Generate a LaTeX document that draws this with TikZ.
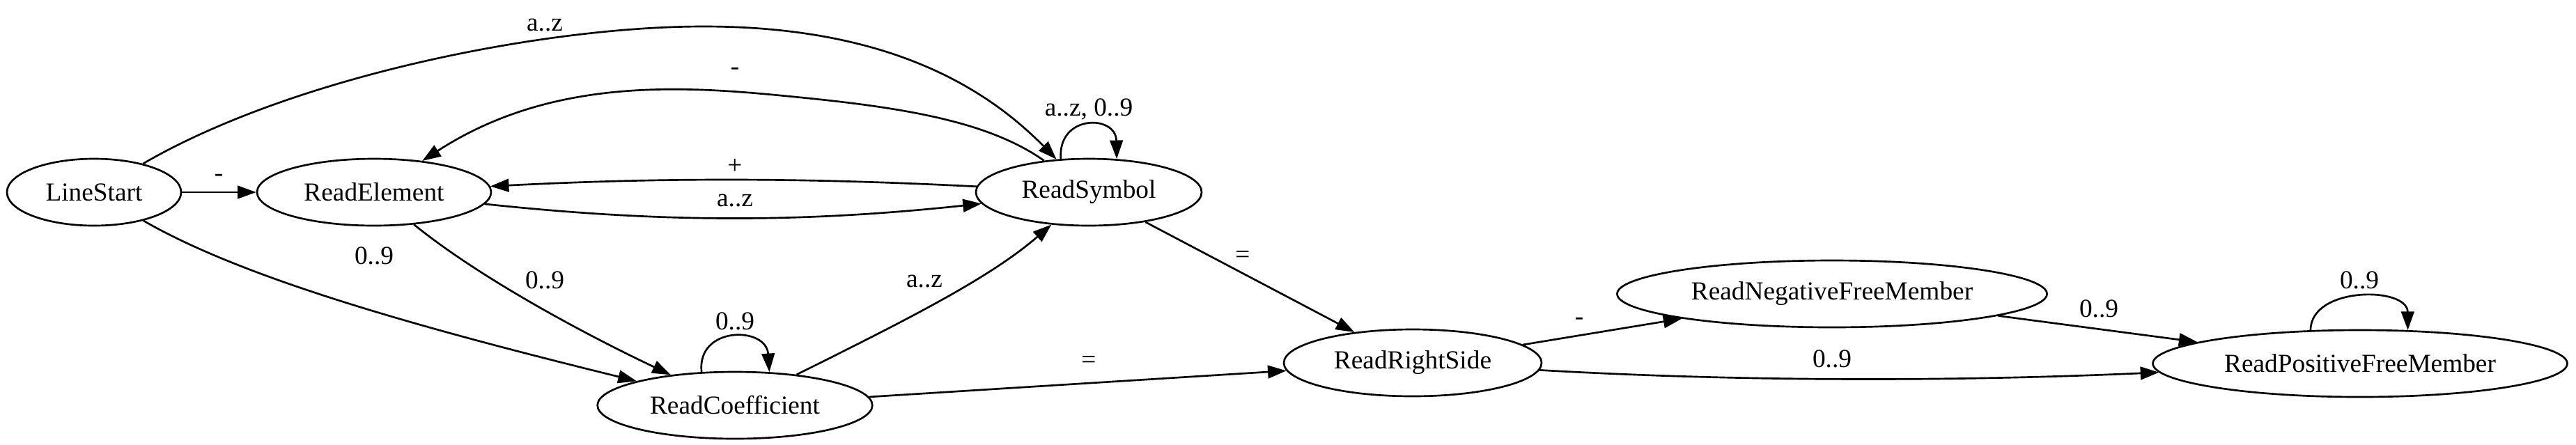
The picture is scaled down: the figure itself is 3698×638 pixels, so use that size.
\documentclass[tikz,border=0pt]{standalone}
\usepackage{fontspec}
\setmainfont{Liberation Serif}
\usetikzlibrary{arrows.meta,shapes.geometric}
\begin{document}
\begin{tikzpicture}[x=0.375pt,y=-0.375pt,
  state/.style={draw,ellipse,line width=1pt,inner sep=0pt,minimum height=36pt,font=\fontsize{14}{16}\selectfont},
  lbl/.style={inner sep=0pt,font=\fontsize{14}{16}\selectfont},
  arr/.style={line width=1pt,-{Triangle[length=10pt,width=7pt]}}]
\useasboundingbox (0,0) rectangle (3698,638);
% states
\node[state,minimum width=93.75pt] (LS) at (135,276) {LineStart};
\node[state,minimum width=126pt]   (RE) at (537,276) {ReadElement};
\node[state,minimum width=121.5pt] (RS) at (1563,276) {ReadSymbol};
\node[state,minimum width=148pt]   (RC) at (1055,582) {ReadCoefficient};
\node[state,minimum width=138.75pt] (RR) at (2028,521) {ReadRightSide};
\node[state,minimum width=231.4pt] (RN) at (2630,422) {ReadNegativeFreeMember};
\node[state,minimum width=223.1pt] (RP) at (3388,522) {ReadPositiveFreeMember};
% edges
\draw[arr] (LS) -- (RE);
\draw[arr] (LS) .. controls (420,110) and (780,38) .. (1010,38) .. controls (1250,38) and (1400,110) .. (RS);
\draw[arr] (RS) .. controls (1420,175) and (1300,155) .. (1150,140) .. controls (1000,125) and (800,105) .. (RE);
\draw[arr] (RS) .. controls (1150,255) and (950,255) .. (RE);
\draw[arr] (RE) .. controls (950,320) and (1150,320) .. (RS);
\draw[arr] (LS) .. controls (350,400) and (600,470) .. (RC);
\draw[arr] (RE) .. controls (690,400) and (840,480) .. (RC);
\draw[arr] (RC.135) .. controls (1000,468) and (1100,468) .. (RC.44);
\draw[arr] (RC) .. controls (1300,460) and (1420,400) .. (RS);
\draw[arr] (RS.130) .. controls (1518,164) and (1602,164) .. (RS.50);
\draw[arr] (RS) -- (RR);
\draw[arr] (RC) -- (RR);
\draw[arr] (RR) -- (RN);
\draw[arr] (RR) .. controls (2500,548) and (2800,548) .. (RP);
\draw[arr] (RN) -- (RP);
\draw[arr] (RP.146) .. controls (3317,411) and (3456,411) .. (RP.35);
% labels
\node[lbl] (l1)  at (314,255)  {-};
\node[lbl] (l2)  at (782,36)   {a..z};
\node[lbl] (l3)  at (1055,102) {-};
\node[lbl] (l4)  at (1055,239) {+};
\node[lbl] (l5)  at (1055,288) {a..z};
\node[lbl] (l6)  at (537,367)  {0..9};
\node[lbl] (l7)  at (782,402)  {0..9};
\node[lbl] (l8)  at (1055,461) {0..9};
\node[lbl] (l9)  at (1327,404) {a..z};
\node[lbl] (l10) at (1563,157) {a..z, 0..9};
\node[lbl] (l11) at (1784,369) {=};
\node[lbl] (l12) at (1563,520) {=};
\node[lbl] (l13) at (2267,461) {-};
\node[lbl] (l14) at (2630,515) {0..9};
\node[lbl] (l15) at (3013,443) {0..9};
\node[lbl] (l16) at (3387,402) {0..9};
\end{tikzpicture}
\end{document}
